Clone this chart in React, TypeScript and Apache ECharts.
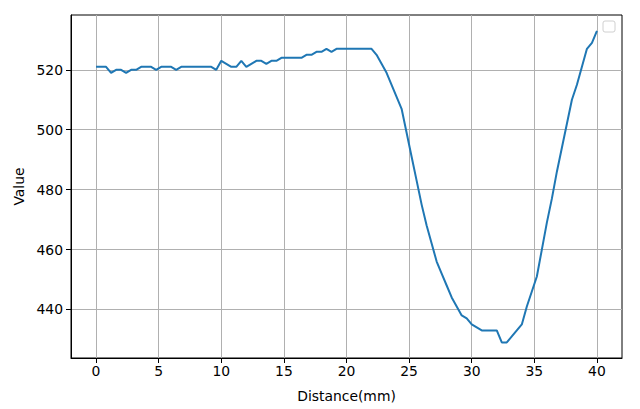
import React, { useEffect, useRef } from "react";
import * as echarts from "echarts";

const step = 0.4;
const values: number[] = [
  521, 521, 521, 519, 520, 520, 519, 520, 520, 521,
  521, 521, 520, 521, 521, 521, 520, 521, 521, 521,
  521, 521, 521, 521, 520, 523, 522, 521, 521, 523,
  521, 522, 523, 523, 522, 523, 523, 524, 524, 524,
  524, 524, 525, 525, 526, 526, 527, 526, 527, 527,
  527, 527, 527, 527, 527, 527, 525, 522, 519, 515,
  511, 507, 499, 491, 483, 475, 468, 462, 456, 452,
  448, 444, 441, 438, 437, 435, 434, 433, 433, 433,
  433, 429, 429, 431, 433, 435, 441, 446, 451, 460,
  469, 477, 486, 494, 502, 510, 515, 521, 527, 529,
  533,
];
const xTicks = [0, 5, 10, 15, 20, 25, 30, 35, 40];
const yTicks = [440, 460, 480, 500, 520];

export default function App() {
  const ref = useRef<HTMLDivElement>(null);
  useEffect(() => {
    document.body.style.margin = "0";
    const chart = echarts.init(ref.current!, null, { renderer: "svg" });
    const data = values.map((v, i) => [Math.round(i * step * 10) / 10, v]);
    const font = "DejaVu Sans";
    chart.setOption({
      animation: false,
      grid: {
        left: 71,
        right: 18,
        top: 15,
        bottom: 51,
        show: true,
        borderColor: "#000",
        borderWidth: 1,
        backgroundColor: "#fff",
      },
      xAxis: {
        type: "value",
        min: -2,
        max: 42,
        name: "Distance(mm)",
        nameLocation: "middle",
        nameGap: 31,
        nameTextStyle: { fontFamily: font, fontSize: 13.9, color: "#000" },
        axisLine: { show: true, onZero: false, lineStyle: { color: "#000", width: 1 } },
        axisTick: { show: true, inside: false, length: 5, lineStyle: { color: "#000", width: 1 }, customValues: xTicks },
        axisLabel: { fontFamily: font, fontSize: 13.9, color: "#000", margin: 6, customValues: xTicks },
        splitLine: { show: true, lineStyle: { color: "#b0b0b0", width: 1 } },
      },
      yAxis: {
        type: "value",
        min: 423.8,
        max: 538.3,
        name: "Value",
        nameLocation: "middle",
        nameGap: 44,
        nameRotate: 90,
        nameTextStyle: { fontFamily: font, fontSize: 13.9, color: "#000" },
        axisLine: { show: true, onZero: false, lineStyle: { color: "#000", width: 1 } },
        axisTick: { show: true, inside: false, length: 5, lineStyle: { color: "#000", width: 1 }, customValues: yTicks },
        axisLabel: { fontFamily: font, fontSize: 13.9, color: "#000", margin: 8, customValues: yTicks },
        splitLine: { show: true, lineStyle: { color: "#b0b0b0", width: 1 } },
      },
      graphic: [
        {
          type: "rect",
          shape: { x: 603, y: 21, width: 12, height: 11, r: 2 },
          style: { fill: "#fff", stroke: "#d0d0d0", lineWidth: 1 },
          z: 100,
        },
      ],
      series: [
        {
          type: "line",
          data,
          symbol: "none",
          lineStyle: { color: "#1f77b4", width: 2 },
          itemStyle: { color: "#1f77b4" },
        },
      ],
    });
    return () => chart.dispose();
  }, []);
  return <div ref={ref} style={{ width: 640, height: 409 }} />;
}
